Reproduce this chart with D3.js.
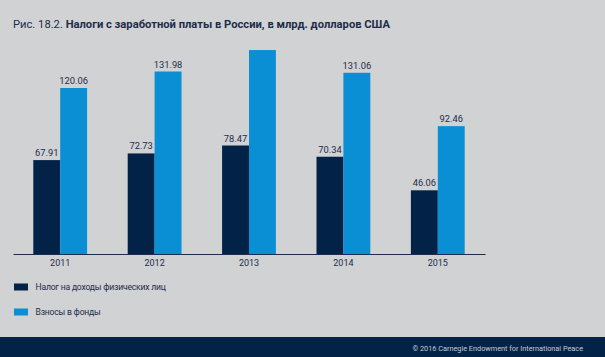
<!DOCTYPE html>
<html><head><meta charset="utf-8">
<script src="https://cdn.jsdelivr.net/npm/d3@7"></script>
<style>
html,body{margin:0;padding:0;background:#d1d2d4;}
svg{display:block;font-family:Roboto,"Noto Sans",sans-serif;}
</style></head>
<body><svg id="c" width="605" height="357"></svg>
<script>
const years = ["2011","2012","2013","2014","2015"];
const seriesNames = ["Налог на доходы физических лиц","Взносы в фонды"];
const incomeTax = [67.91, 72.73, 78.47, 70.34, 46.06];
const contributions = [120.06, 131.98, 147.5, 131.06, 92.46];
const incomeTaxLabels = ["67.91","72.73","78.47","70.34","46.06"];
const contributionLabels = ["120.06","131.98","","131.06","92.46"];
const titlePrefix = "Рис. 18.2. ";
const titleMain = "Налоги с заработной платы в России, в млрд. долларов США";
const footerText = "© 2016 Carnegie Endowment for International Peace";

const colors = ["#022347", "#0a8ed4"];
const navy = "#1d2d4b";

const svg = d3.select("#c");
svg.append("rect").attr("width",605).attr("height",357).attr("fill","#d1d2d4");

// title
const t = svg.append("text").attr("x",13).attr("y",27.5).attr("font-size",11.2).attr("fill",navy);
t.append("tspan").text(titlePrefix);
t.append("tspan").attr("font-weight","bold").text(titleMain);

const x0 = d3.scaleBand().domain(years).range([13,485]).paddingInner(0.43).paddingOuter(0.215);
const x1 = d3.scaleBand().domain([0,1]).range([0,x0.bandwidth()]);
const y = d3.scaleLinear().domain([0,150]).range([254, 254-207.4]);

const series = [
  {vals: incomeTax, labels: incomeTaxLabels},
  {vals: contributions, labels: contributionLabels}
];

series.forEach((s, si) => {
  const g = svg.append("g");
  g.selectAll("rect").data(years).join("rect")
    .attr("x", d => x0(d) + x1(si))
    .attr("width", x1.bandwidth())
    .attr("y", (d,i) => y(s.vals[i]))
    .attr("height", (d,i) => y(0) - y(s.vals[i]))
    .attr("fill", colors[si]);
  g.selectAll("text").data(years).join("text")
    .attr("x", d => x0(d) + x1(si) + x1.bandwidth()/2)
    .attr("y", (d,i) => y(s.vals[i]) - 4)
    .attr("text-anchor","middle")
    .attr("font-size",9.3)
    .attr("fill",navy)
    .text((d,i) => s.labels[i]);
});

// axis
const axis = svg.append("g").attr("transform","translate(0,254)")
  .call(d3.axisBottom(x0).tickSize(0).tickPadding(6));
axis.select(".domain").attr("stroke","#1d2d4b").attr("stroke-width",1.2);
axis.selectAll("text").attr("font-size",9).attr("fill",navy).attr("font-family","Roboto, sans-serif");

// legend
const legY = [283.5, 308.5];
seriesNames.forEach((n,i) => {
  svg.append("rect").attr("x",14).attr("y",legY[i]).attr("width",14).attr("height",7).attr("fill",colors[i]);
  svg.append("text").attr("x",35.5).attr("y",legY[i]+6.8).attr("font-size",8.6)
    .attr("letter-spacing",-0.2).attr("fill",navy).text(n);
});

// footer
svg.append("rect").attr("x",0).attr("y",337).attr("width",605).attr("height",20).attr("fill","#022347");
svg.append("text").attr("x",583).attr("y",350.5).attr("text-anchor","end").attr("font-size",7.3)
  .attr("fill","#c5cad3").text(footerText);
</script></body></html>
